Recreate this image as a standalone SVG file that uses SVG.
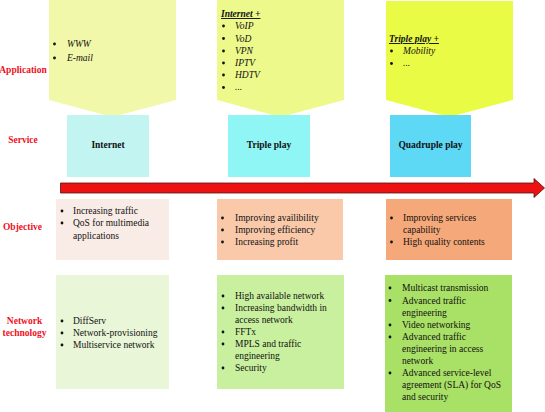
<svg xmlns="http://www.w3.org/2000/svg" width="545" height="412" viewBox="0 0 545 412">
<style>
text{font-family:"Liberation Serif","Times New Roman",serif;font-size:9.5px;fill:#111}
.lab{font-weight:bold;fill:#EE1122;text-anchor:middle}
.svc{font-weight:bold;text-anchor:middle}
.it{font-style:italic}
.hd{font-style:italic;font-weight:bold;text-decoration:underline}
.b{fill:#111}
</style>
<rect width="545" height="412" fill="#ffffff"/>
<g id="labels">
<text class="lab" x="23" y="73">Application</text>
<text class="lab" x="23" y="143">Service</text>
<text class="lab" x="22.5" y="230">Objective</text>
<text class="lab" x="24.5" y="324">Network</text>
<text class="lab" x="24.5" y="336">technology</text>
</g>
<g id="app-internet">
<polygon points="49,0 176,0 176,100 112.5,117 49,100" fill="#F1F8AA"/>
<circle class="b" cx="54.5" cy="44" r="1.4"/><text class="it" x="67" y="47">WWW</text>
<circle class="b" cx="54.5" cy="58" r="1.4"/><text class="it" x="67" y="61">E-mail</text>
</g>
<g id="app-triple">
<polygon points="217,0 344,0 344,100 280.5,117 217,100" fill="#EDF98B"/>
<text class="hd" x="221" y="17">Internet +</text>
<circle class="b" cx="223.5" cy="26" r="1.4"/><text class="it" x="235" y="29">VoIP</text>
<circle class="b" cx="223.5" cy="38.5" r="1.4"/><text class="it" x="235" y="41.5">VoD</text>
<circle class="b" cx="223.5" cy="51" r="1.4"/><text class="it" x="235" y="54">VPN</text>
<circle class="b" cx="223.5" cy="63" r="1.4"/><text class="it" x="235" y="66">IPTV</text>
<circle class="b" cx="223.5" cy="75" r="1.4"/><text class="it" x="235" y="78">HDTV</text>
<circle class="b" cx="223.5" cy="87.5" r="1.4"/><text class="it" x="235" y="90">...</text>
</g>
<g id="app-quadruple">
<polygon points="386,1 513,1 513,100 449.5,117 386,100" fill="#EAFB45"/>
<text class="hd" x="389" y="42">Triple play +</text>
<circle class="b" cx="391.5" cy="51" r="1.4"/><text class="it" x="403" y="54">Mobility</text>
<circle class="b" cx="391.5" cy="63.5" r="1.4"/><text class="it" x="403" y="66">...</text>
</g>
<g id="svc-internet">
<rect x="67" y="115" width="82" height="62" fill="#C2F5F1"/>
<text class="svc" x="108" y="148">Internet</text>
</g>
<g id="svc-triple">
<rect x="228" y="115" width="82" height="62" fill="#8FF5F5"/>
<text class="svc" x="269" y="148">Triple play</text>
</g>
<g id="svc-quadruple">
<rect x="390" y="115" width="81" height="62" fill="#5DD8F5"/>
<text class="svc" x="430.5" y="148">Quadruple play</text>
</g>
<g id="connectors">
<polygon points="60.5,183 534,183 534,178.5 544.5,188 534,197.5 534,193 60.5,193" fill="#EE1111" stroke="#551111" stroke-width="0.8"/>
</g>
<g id="obj-internet">
<rect x="56" y="199" width="113" height="61" fill="#F9ECE6"/>
<circle class="b" cx="62" cy="211" r="1.4"/><text x="73" y="214">Increasing traffic</text>
<circle class="b" cx="62" cy="223" r="1.4"/><text x="73" y="226">QoS for multimedia</text>
<text x="73" y="238.5">applications</text>
</g>
<g id="obj-triple">
<rect x="217" y="199" width="126" height="61" fill="#F9C9AA"/>
<circle class="b" cx="222.5" cy="218" r="1.4"/><text x="235" y="221">Improving availibility</text>
<circle class="b" cx="222.5" cy="230" r="1.4"/><text x="235" y="233">Improving efficiency</text>
<circle class="b" cx="222.5" cy="242" r="1.4"/><text x="235" y="245">Increasing profit</text>
</g>
<g id="obj-quadruple">
<rect x="386" y="199" width="126" height="61" fill="#F5A879"/>
<circle class="b" cx="391.5" cy="218" r="1.4"/><text x="403" y="221">Improving services</text>
<text x="403" y="233">capability</text>
<circle class="b" cx="391.5" cy="242" r="1.4"/><text x="403" y="245">High quality contents</text>
</g>
<g id="net-internet">
<rect x="56" y="275" width="113" height="114" fill="#E9F6D8"/>
<circle class="b" cx="62" cy="321" r="1.4"/><text x="73" y="324">DiffServ</text>
<circle class="b" cx="62" cy="333" r="1.4"/><text x="73" y="336">Network-provisioning</text>
<circle class="b" cx="62" cy="345" r="1.4"/><text x="73" y="348">Multiservice network</text>
</g>
<g id="net-triple">
<rect x="217" y="275" width="127" height="114" fill="#C9F09F"/>
<circle class="b" cx="223" cy="296" r="1.4"/><text x="235" y="299">High available network</text>
<circle class="b" cx="223" cy="308" r="1.4"/><text x="235" y="311">Increasing bandwidth in</text>
<text x="235" y="323">access network</text>
<circle class="b" cx="223" cy="332" r="1.4"/><text x="235" y="335">FFTx</text>
<circle class="b" cx="223" cy="344" r="1.4"/><text x="235" y="347">MPLS and traffic</text>
<text x="235" y="359">engineering</text>
<circle class="b" cx="223" cy="368" r="1.4"/><text x="235" y="371">Security</text>
</g>
<g id="net-quadruple">
<rect x="385" y="275" width="127" height="137" fill="#A9E066"/>
<circle class="b" cx="390" cy="288" r="1.4"/><text x="402" y="291">Multicast transmission</text>
<circle class="b" cx="390" cy="300.5" r="1.4"/><text x="402" y="303.5">Advanced traffic</text>
<text x="402" y="315.5">engineering</text>
<circle class="b" cx="390" cy="325" r="1.4"/><text x="402" y="328">Video networking</text>
<circle class="b" cx="390" cy="337" r="1.4"/><text x="402" y="340">Advanced traffic</text>
<text x="402" y="352">engineering in access</text>
<text x="402" y="364">network</text>
<circle class="b" cx="390" cy="373" r="1.4"/><text x="402" y="376">Advanced service-level</text>
<text x="402" y="388">agreement (SLA) for QoS</text>
<text x="402" y="400">and security</text>
</g>
</svg>
